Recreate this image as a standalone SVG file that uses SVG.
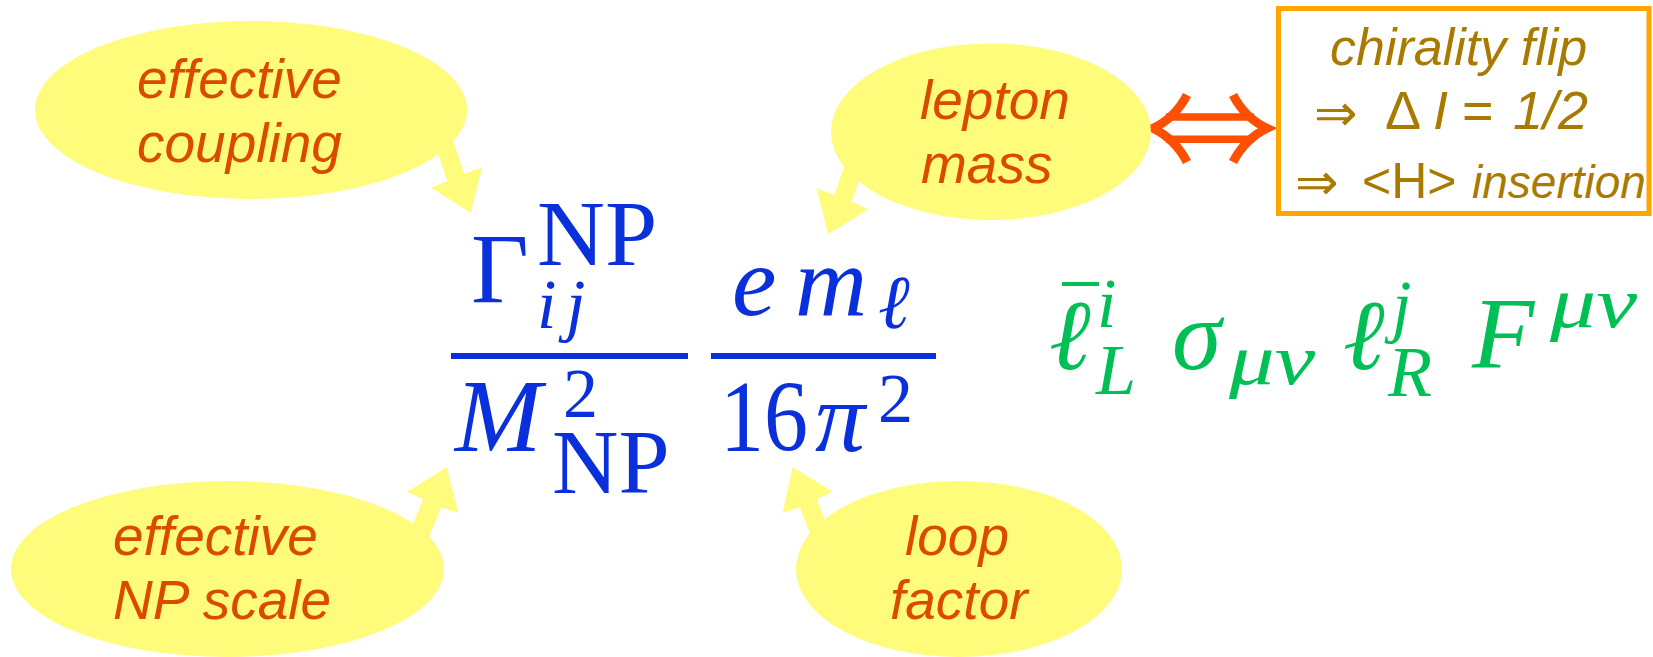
<svg xmlns="http://www.w3.org/2000/svg" width="1653" height="657" viewBox="0 0 1653 657">
<style>
.bub{fill:#FFFB7B}
.lbl{font-family:"Liberation Sans",Arial,sans-serif;font-style:italic;font-size:55px;fill:#DA4B00}
.box{font-family:"Liberation Sans",Arial,sans-serif;fill:#A87A00}
.arr{font-family:"DejaVu Sans",sans-serif;font-size:52px;fill:#A87A00}
.m{font-family:"Liberation Serif","Times New Roman",serif;fill:#0A30DC}
.g{font-family:"Liberation Serif","Times New Roman",serif;fill:#00BF55}
.it{font-style:italic}
</style>
<rect width="1653" height="657" fill="#FFFFFF"/>
<g id="connectors">
<polygon class="bub" points="436,148 447.5,181 431.4,187.7 470.7,212.7 482.1,167.3 464.3,174 452,138"/>
<polygon class="bub" points="848,156 834.3,195 816.7,188.3 828.3,234.3 868.3,209.3 851.7,201.7 864,166"/>
<polygon class="bub" points="408.3,535.3 423.3,499.3 407.3,491.7 446.7,467.3 458.3,512.7 441,507.3 425,546.7"/>
<polygon class="bub" points="814,544 800,507.3 782.7,512.7 792.7,467.3 832.7,491.7 816.7,499.3 829,531"/>
<g id="double-arrow" fill="none" stroke="#FF4F00" stroke-width="9">
<path d="M1187,95 Q1175,118 1153,128.3 Q1175,139 1187,162"/>
<path d="M1233,95 Q1245,118 1267,128.3 Q1245,139 1233,162"/>
<line x1="1166" y1="117" x2="1254" y2="117" stroke-width="7.5"/>
<line x1="1166" y1="139.2" x2="1254" y2="139.2" stroke-width="7.5"/>
</g>
</g>
<g id="node-coupling">
<ellipse class="bub" cx="251" cy="110" rx="216" ry="89"/>
<text class="lbl" x="137" y="98">effective</text>
<text class="lbl" x="137" y="162">coupling</text>
</g>
<g id="node-lepton-mass">
<ellipse class="bub" cx="991" cy="131.7" rx="160" ry="88.3"/>
<text class="lbl" x="920" y="119">lepton</text>
<text class="lbl" x="921" y="183">mass</text>
</g>
<g id="node-np-scale">
<ellipse class="bub" cx="227.5" cy="569" rx="216.5" ry="88"/>
<text class="lbl" x="113" y="555">effective</text>
<text class="lbl" x="113" y="619">NP scale</text>
</g>
<g id="node-loop-factor">
<ellipse class="bub" cx="959" cy="569" rx="163" ry="88"/>
<text class="lbl" x="905" y="555">loop</text>
<text class="lbl" x="890" y="619">factor</text>
</g>
<g id="node-chirality">
<rect x="1278.5" y="8.5" width="370.5" height="205" fill="#FFFFFF" stroke="#FFA500" stroke-width="5"/>
<text class="box" x="1330" y="65" font-size="52" font-style="italic">chirality flip</text>
<text class="arr" x="1314" y="131">⇒</text>
<text class="box" x="1385" y="129" font-size="54">Δ</text>
<text class="box" x="1433" y="129" font-size="54" font-style="italic">I</text>
<text class="box" x="1462" y="129" font-size="54">=</text>
<text class="box" x="1513" y="129" font-size="54" font-style="italic">1/2</text>
<text class="arr" x="1295" y="200">⇒</text>
<text class="box" x="1362" y="198" font-size="50">&lt;H&gt;</text>
<text class="box" x="1472" y="198" font-size="46" font-style="italic">insertion</text>
</g>
<g id="formula-fraction">
<text class="m" x="471" y="302" font-size="100">Γ</text>
<text class="m" x="537" y="265" font-size="94">NP</text>
<text class="m it" x="537" y="328" font-size="70">i</text>
<text class="m it" x="566" y="328" font-size="70">j</text>
<rect x="451" y="353" width="237" height="6" fill="#0A30DC"/>
<text class="m it" x="732" y="315" font-size="100">e</text>
<text class="m it" x="795" y="315" font-size="100">m</text>
<text class="m it" x="878" y="328" font-size="76">ℓ</text>
<rect x="711" y="353" width="225" height="6" fill="#0A30DC"/>
<text class="m it" x="455" y="451" font-size="104">M</text>
<text class="m" x="563" y="417" font-size="70">2</text>
<text class="m" x="552" y="493" font-size="92">NP</text>
<text class="m" x="720" y="451" font-size="102" textLength="88" lengthAdjust="spacingAndGlyphs">16</text>
<text class="m it" x="815" y="451" font-size="100">π</text>
<text class="m" x="878" y="422" font-size="70">2</text>
</g>
<g id="formula-operator">
<text class="g it" x="1049" y="369" font-size="100">ℓ</text>
<rect x="1062" y="282" width="37" height="4" fill="#00BF55"/>
<text class="g it" x="1097" y="327" font-size="70">i</text>
<text class="g it" x="1096" y="394" font-size="72">L</text>
<text class="g it" x="1172" y="369" font-size="100">σ</text>
<text class="g it" x="1229" y="384" font-size="72" textLength="86" lengthAdjust="spacingAndGlyphs">μν</text>
<text class="g it" x="1343" y="369" font-size="100">ℓ</text>
<text class="g it" x="1392" y="329" font-size="70">j</text>
<text class="g it" x="1388" y="396" font-size="72">R</text>
<text class="g it" x="1472" y="368" font-size="102">F</text>
<text class="g it" x="1550" y="327" font-size="72" textLength="87" lengthAdjust="spacingAndGlyphs">μν</text>
</g>
</svg>
